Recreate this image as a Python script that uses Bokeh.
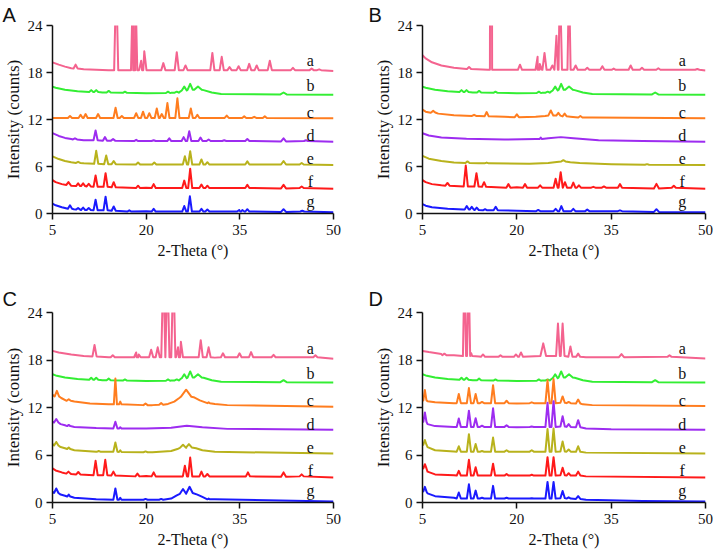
from bokeh.plotting import figure
from bokeh.models import Range1d, FixedTicker, Title
from bokeh.layouts import column, row
from bokeh.core.properties import value
from bokeh.embed import file_html
from bokeh.resources import INLINE

# ---------------- data ----------------
THETA_TICKS = [5, 20, 35, 50]
INTENSITY_TICKS = [0, 6, 12, 18, 24]
SERIES = ["a", "b", "c", "d", "e", "f", "g"]
COLORS = ["#F4638F", "#33EE33", "#FF7D1F", "#9D2CF0", "#B8B21C", "#FF1A1A", "#1A1AFF"]
LABEL_X = 46.3
LABEL_Y = [19.5, 16.3, 12.9, 9.9, 7.0, 4.05, 1.5]
PANELS = ["A", "B", "C", "D"]

# each trace: baseline knots (2theta, counts) and peaks (2theta, top[, foot[, half-width]])
# sample b (same amorphous reference in every panel)
b_knots = [(5, 16.2), (5.5, 16.05), (7, 15.8), (9, 15.6), (13, 15.45), (20, 15.35), (24, 15.4),
           (25.5, 15.6), (29.2, 15.75), (30.5, 15.45), (32, 15.25), (50, 15.15)]
b_peaks = [(11.2, 15.75, 15.5), (12.0, 15.75, 15.5), (14.0, 15.65, 15.45), (16.6, 15.55, 15.4),
           (23.5, 15.55, 15.38), (24.9, 15.55, 15.42), (26.1, 16.2, 15.7, 0.4),
           (27.05, 16.55, 15.8, 0.4), (28.3, 16.2, 15.8, 0.6), (42.0, 15.45, 15.2, 0.5)]

# ----- panel A -----
A_feet = [18.3, 15.4, 12.2, 9.25, 6.25, 3.25, 0.25]
A_a_knots = [(5, 19.3), (6, 19.0), (7, 18.75), (8, 18.55), (10, 18.4), (14, 18.3), (50, 18.2)]
A_a_peaks = [(8.7, 19.0, 18.5), (15.2, 30), (17.9, 30), (18.25, 30), (19.2, 19.5), (19.7, 20.7, 18.3, 0.35),
             (22.75, 19.2), (24.9, 20.6), (26.3, 18.9), (30.6, 20.5), (32.1, 20.0), (33.35, 18.7),
             (34.8, 18.8), (36.5, 19.1), (37.7, 18.9), (39.8, 19.5), (43.5, 18.6), (46.5, 18.5), (47.7, 18.4)]
A_c_knots = [(5, 12.2), (50, 12.15)]
A_c_peaks = [(7.8, 12.45), (9.5, 12.6), (10.3, 12.7), (12.3, 12.7), (15.1, 13.5), (16.1, 12.45), (18.4, 12.8),
             (19.5, 13.0), (20.5, 12.8), (21.7, 13.4), (22.5, 12.7), (23.4, 14.1), (25.0, 14.7),
             (27.15, 13.4), (28.2, 12.6), (32.9, 12.5), (35.7, 12.4), (37.3, 12.35), (39.0, 12.4)]
A_d_knots = [(5, 10.25), (6, 9.9), (7, 9.65), (8, 9.5), (10, 9.35), (14, 9.3), (50, 9.15)]
A_d_peaks = [(8.6, 9.6, 9.45), (11.9, 10.6, 9.35), (13.4, 9.75, 9.3), (14.7, 9.5, 9.3), (18.4, 9.4),
             (21.2, 9.35), (23.7, 9.6), (26.0, 9.75), (26.9, 10.5), (28.7, 9.7), (30.0, 9.45),
             (32.5, 9.35), (36.2, 9.5), (42.0, 9.6, 9.2, 0.4), (45.6, 9.35)]
A_e_knots = [(5, 7.3), (6, 6.95), (7, 6.7), (8, 6.55), (10, 6.4), (14, 6.3), (50, 6.2)]
A_e_peaks = [(9.1, 6.6, 6.45), (12.0, 8.0, 6.35), (13.6, 7.4, 6.3), (14.8, 6.7, 6.3), (18.7, 6.5),
             (21.3, 6.5), (26.2, 7.3), (27.05, 7.95), (28.85, 6.9), (29.8, 6.55), (36.2, 6.65),
             (42.0, 6.7, 6.25, 0.4), (44.9, 6.45)]
A_f_knots = [(5, 4.25), (5.5, 4.0), (6.5, 3.75), (8, 3.55), (12.5, 3.4), (20, 3.3), (50, 3.15)]
A_f_peaks = [(7.55, 4.0, 3.65), (9.1, 3.85, 3.5), (9.9, 3.85, 3.5), (10.8, 3.8, 3.45), (11.9, 4.85, 3.4),
             (13.5, 5.15, 3.4), (14.8, 4.0, 3.35), (18.7, 3.55), (21.2, 3.75), (26.1, 4.2), (27.05, 5.7),
             (28.85, 3.7), (29.8, 3.55), (36.2, 3.65), (42.0, 3.65, 3.2, 0.4), (44.9, 3.45)]
A_g_knots = [(5, 1.25), (5.5, 1.05), (6.5, 0.8), (8.4, 0.55), (12.5, 0.4), (20, 0.3), (50, 0.15)]
A_g_peaks = [(7.8, 1.05, 0.6), (9.1, 0.7, 0.5), (9.9, 0.75, 0.45), (10.8, 0.7, 0.45), (11.9, 1.75, 0.4),
             (13.5, 2.15, 0.4), (14.8, 0.9, 0.35), (17.3, 0.4), (21.2, 0.6), (26.1, 0.95), (27.0, 2.2),
             (28.85, 0.6), (29.8, 0.5), (34.9, 0.45), (35.4, 0.45), (36.2, 0.55), (42.0, 0.55, 0.2, 0.4),
             (45.0, 0.35)]

# ----- panel B -----
B_feet = [18.35, 15.4, 12.35, 9.5, 6.4, 3.3, 0.3]
B_a_knots = [(5, 20.2), (5.5, 19.8), (6.5, 19.3), (8, 18.9), (10, 18.6), (12, 18.45), (50, 18.25)]
B_a_peaks = [(12.4, 18.7, 18.45), (15.74, 30), (16.05, 30), (20.5, 19.0), (23.3, 20.0), (23.65, 19.1),
             (24.4, 20.5), (25.65, 18.9), (26.3, 22.7), (26.85, 30), (28.3, 30, 18.35, 0.25), (29.35, 18.9),
             (31.2, 18.6), (33.6, 18.8), (35.4, 18.5), (38.1, 18.9), (39.9, 18.6), (42.5, 18.55), (48.7, 18.45)]
B_c_knots = [(5, 13.25), (5.5, 13.0), (6.3, 12.85), (7.5, 12.75), (10, 12.55), (14, 12.45), (18, 12.35),
             (23, 12.35), (24.5, 12.45), (28.5, 12.35), (32, 12.25), (50, 12.15)]
B_c_peaks = [(6.7, 13.1, 12.9), (13.2, 12.6, 12.45), (15.2, 12.95, 12.4), (20.0, 12.65, 12.3),
             (25.4, 13.15, 12.5, 0.4), (26.6, 12.85, 12.5), (27.6, 12.75, 12.4), (30.1, 12.45, 12.25)]
B_d_knots = [(5, 10.25), (6, 9.95), (8, 9.7), (12, 9.55), (18, 9.45), (23, 9.5), (25, 9.6), (27, 9.75),
             (29, 9.6), (33, 9.35), (40, 9.25), (50, 9.15)]
B_d_peaks = [(23.8, 9.7, 9.5, 0.2)]
B_e_knots = [(5, 7.35), (6, 7.0), (8, 6.7), (10, 6.5), (14, 6.4), (22, 6.35), (25, 6.45), (26, 6.55),
             (28.5, 6.55), (30, 6.45), (35, 6.3), (50, 6.2)]
B_e_peaks = [(12.15, 6.65, 6.45), (15.2, 6.5, 6.4), (27.4, 6.8, 6.65), (40.7, 6.3, 6.22)]
B_f_knots = [(5, 4.25), (5.5, 4.0), (6.5, 3.75), (8, 3.6), (12.5, 3.45), (20, 3.35), (31, 3.3), (50, 3.15)]
B_f_peaks = [(8.97, 3.9, 3.55), (11.88, 6.13, 3.45), (13.58, 5.15, 3.45), (14.79, 4.0, 3.4), (18.66, 3.75),
             (21.3, 3.75), (23.7, 3.6), (26.17, 4.43), (26.97, 5.27), (27.65, 4.0), (28.98, 3.95),
             (29.87, 3.6), (32.16, 3.4), (33.85, 3.45), (36.4, 3.75), (42.2, 3.78, 3.2, 0.4), (44.96, 3.55)]
B_g_knots = [(5, 1.2), (5.5, 1.0), (6.5, 0.8), (9, 0.6), (11.5, 0.5), (20, 0.35), (30, 0.3), (50, 0.15)]
B_g_peaks = [(12.04, 0.95, 0.5), (12.83, 0.85, 0.5), (13.62, 0.75, 0.45), (14.95, 0.55, 0.4),
             (16.64, 0.85, 0.4), (23.4, 0.45), (26.17, 0.6), (27.08, 0.95), (28.98, 0.6), (31.2, 0.5),
             (36.4, 0.4), (42.2, 0.55, 0.2, 0.4)]

# ----- panel C -----
C_feet = [18.35, 15.4, 12.4, 9.35, 6.4, 3.3, 0.35]
C_a_knots = [(5, 19.15), (6, 18.95), (8, 18.7), (10, 18.5), (14, 18.35), (31, 18.3), (50, 18.15)]
C_a_peaks = [(11.73, 19.9, 18.45), (14.65, 18.6), (18.4, 18.95), (18.8, 18.7), (20.8, 19.3), (21.85, 19.6),
             (22.75, 30), (23.4, 30), (24.35, 30), (25.1, 19.6), (25.56, 20.3), (28.74, 20.5), (30.0, 19.6),
             (32.3, 18.85), (34.95, 18.85), (36.8, 19.0), (40.4, 18.65), (47.1, 18.6)]
C_c_knots = [(5, 13.6), (6.4, 13.2), (8.5, 12.75), (11, 12.5), (14, 12.4), (21, 12.3), (23.5, 12.45),
             (24.5, 12.75), (25.3, 13.2), (27.6, 13.3), (28.6, 12.9), (31, 12.45), (33, 12.3), (50, 12.1)]
C_c_peaks = [(5.7, 14.1, 13.4, 0.35), (7.6, 13.05, 12.85), (15.07, 15.66, 12.4, 0.25), (15.85, 12.75, 12.4, 0.2),
             (19.9, 12.5, 12.3), (22.4, 12.55, 12.35), (26.4, 14.25, 13.35, 0.85), (30.0, 12.65, 12.55, 0.2)]
C_d_knots = [(5, 10.2), (6.3, 9.9), (7, 9.75), (8.5, 9.55), (12, 9.4), (20, 9.35), (24, 9.45), (26.5, 9.7),
             (29, 9.5), (33, 9.3), (50, 9.2)]
C_d_peaks = [(5.6, 10.55, 10.1, 0.35), (7.6, 9.8, 9.65, 0.25), (15.07, 10.2, 9.35), (15.85, 9.5, 9.35, 0.2)]
C_e_knots = [(5, 7.4), (6.3, 7.0), (7, 6.85), (8.5, 6.6), (12, 6.4), (21, 6.35), (24, 6.5), (25, 6.75),
             (28, 6.85), (29, 6.6), (31, 6.4), (50, 6.2)]
C_e_peaks = [(5.6, 7.65, 7.2, 0.35), (7.6, 6.95, 6.75, 0.25), (12.4, 6.5, 6.4), (15.07, 7.58, 6.4),
             (15.85, 6.6, 6.38, 0.2), (19.9, 6.45, 6.35), (25.9, 7.3, 6.9, 0.5), (26.85, 7.37, 6.95, 0.45)]
C_f_knots = [(5, 4.3), (5.5, 4.05), (6.5, 3.8), (8, 3.6), (12.6, 3.45), (20, 3.35), (31, 3.3), (50, 3.15)]
C_f_peaks = [(7.55, 3.9, 3.65), (9.13, 3.85, 3.55), (11.9, 5.26, 3.45), (13.45, 5.39, 3.45), (14.75, 3.9, 3.4),
             (18.6, 3.65), (21.2, 3.8), (26.2, 4.64), (27.05, 5.68), (28.85, 3.9), (29.8, 3.6), (36.3, 3.8),
             (42.0, 3.8, 3.25, 0.4), (44.9, 3.55)]
C_g_knots = [(5, 1.35), (6.3, 1.0), (7.0, 0.85), (8.5, 0.6), (12, 0.4), (21, 0.35), (24, 0.5), (24.9, 0.9),
             (28.2, 1.0), (29, 0.7), (31, 0.4), (50, 0.12)]
C_g_peaks = [(5.6, 1.77, 1.2, 0.35), (7.6, 1.0, 0.75, 0.25), (15.07, 1.77, 0.35), (15.85, 0.6, 0.35, 0.2),
             (19.9, 0.45), (22.4, 0.45), (25.9, 1.7, 1.1, 0.5), (26.95, 1.98, 1.2, 0.5), (30.0, 0.5, 0.4, 0.2)]

# ----- panel D -----
D_feet = [18.4, 15.4, 12.55, 9.55, 6.42, 3.4, 0.5]
D_a_knots = [(5, 19.15), (6, 19.0), (8, 18.75), (10, 18.6), (14, 18.45), (31, 18.35), (50, 18.2)]
D_a_peaks = [(8.48, 18.8, 18.6), (11.68, 30, 18.5, 0.25), (12.33, 30, 18.5, 0.25), (12.75, 18.85, 18.5, 0.15),
             (14.62, 18.7), (17.4, 18.6), (19.86, 18.7), (20.66, 18.95), (24.2, 20.1, 18.5, 0.45),
             (26.54, 22.6, 18.5, 0.3), (27.28, 22.6, 18.5, 0.3), (28.52, 19.7), (29.75, 18.8),
             (36.64, 18.75, 18.35, 0.4), (44.28, 18.6)]
D_c_knots = [(5, 12.95), (5.8, 12.8), (7, 12.65), (10, 12.55), (20, 12.5), (30.5, 12.4), (32, 12.3), (50, 12.2)]
D_c_peaks = [(5.38, 14.2, 12.9, 0.25), (10.77, 13.7), (12.38, 14.45), (13.45, 13.7), (14.46, 12.7),
             (16.22, 14.82), (18.37, 12.85), (22.37, 12.65), (24.88, 15.46), (25.84, 15.6),
             (27.28, 13.4, 12.6, 0.35), (28.24, 12.7), (29.75, 13.0, 12.5, 0.35)]
D_d_knots = [(5, 10.6), (5.8, 9.9), (7, 9.65), (10, 9.55), (20, 9.5), (31, 9.35), (35, 9.25), (50, 9.2)]
D_d_peaks = [(5.38, 11.37, 10.2, 0.25), (10.77, 10.6), (12.38, 11.6), (13.45, 10.65), (14.46, 9.7),
             (16.22, 11.9), (18.37, 9.75), (22.37, 9.6), (24.88, 12.6), (25.84, 12.8),
             (27.28, 10.9, 9.6, 0.35), (28.24, 9.9), (29.75, 10.4, 9.5, 0.35)]
D_e_knots = [(5, 7.6), (5.8, 7.0), (7, 6.6), (10, 6.45), (20, 6.4), (31, 6.3), (50, 6.2)]
D_e_peaks = [(5.38, 7.9, 7.3, 0.25), (10.77, 7.1), (12.38, 8.63), (13.45, 7.4), (14.46, 6.5), (16.22, 8.2),
             (18.37, 6.6), (22.37, 6.6), (24.88, 9.27), (25.84, 9.35), (27.28, 7.7, 6.45, 0.35),
             (28.24, 6.7), (29.75, 7.1, 6.4, 0.35)]
D_f_knots = [(5, 4.5), (5.8, 3.9), (7, 3.55), (10, 3.45), (20, 3.4), (31, 3.3), (50, 3.15)]
D_f_peaks = [(5.38, 4.84, 4.3, 0.25), (10.77, 4.0), (12.38, 5.39), (13.45, 4.45), (16.22, 4.9),
             (18.37, 3.6), (22.37, 3.5), (24.88, 5.73), (25.84, 5.73), (27.28, 4.4, 3.45, 0.35),
             (28.24, 3.7), (29.75, 3.9, 3.4, 0.35)]
D_g_knots = [(5, 1.6), (5.8, 1.15), (7, 0.8), (10, 0.6), (20, 0.5), (31, 0.35), (40, 0.2), (50, 0.12)]
D_g_peaks = [(5.38, 1.98, 1.4, 0.25), (10.77, 1.26), (12.38, 2.3), (13.45, 1.5), (14.46, 0.6), (16.22, 2.1),
             (18.37, 0.6), (22.37, 0.55), (24.88, 2.6), (25.84, 2.6), (27.28, 1.45, 0.55, 0.35),
             (28.24, 0.65), (29.75, 0.8, 0.45, 0.35)]

A_traces = [(A_a_knots, A_a_peaks), (b_knots, b_peaks), (A_c_knots, A_c_peaks), (A_d_knots, A_d_peaks),
            (A_e_knots, A_e_peaks), (A_f_knots, A_f_peaks), (A_g_knots, A_g_peaks)]
B_traces = [(B_a_knots, B_a_peaks), (b_knots, b_peaks), (B_c_knots, B_c_peaks), (B_d_knots, B_d_peaks),
            (B_e_knots, B_e_peaks), (B_f_knots, B_f_peaks), (B_g_knots, B_g_peaks)]
C_traces = [(C_a_knots, C_a_peaks), (b_knots, b_peaks), (C_c_knots, C_c_peaks), (C_d_knots, C_d_peaks),
            (C_e_knots, C_e_peaks), (C_f_knots, C_f_peaks), (C_g_knots, C_g_peaks)]
D_traces = [(D_a_knots, D_a_peaks), (b_knots, b_peaks), (D_c_knots, D_c_peaks), (D_d_knots, D_d_peaks),
            (D_e_knots, D_e_peaks), (D_f_knots, D_f_peaks), (D_g_knots, D_g_peaks)]


def vertices(knots, peaks, foot, hw=0.33):
    pts = list(knots)
    for pk in peaks:
        pos, top = pk[0], pk[1]
        f = pk[2] if len(pk) > 2 else foot
        w = pk[3] if len(pk) > 3 else hw
        pts += [(pos - w, f), (pos, top), (pos + w, f)]
    pts.sort(key=lambda t: t[0])
    return [t[0] for t in pts], [t[1] for t in pts]


SERIF = "'Liberation Serif', 'Times New Roman', Tinos, 'DejaVu Serif', serif"
SANS = "'Liberation Sans', Arial, sans-serif"


def make_panel(letter, traces, feet, width, height, bl, br, bt, bb, letter_offset, letter_standoff):
    p = figure(width=width, height=height, x_range=Range1d(5, 50), y_range=Range1d(0, 24),
               output_backend="svg", toolbar_location=None,
               min_border_left=bl, min_border_right=br, min_border_top=bt, min_border_bottom=bb)
    p.outline_line_color = None
    p.grid.visible = False
    p.background_fill_color = "white"
    p.border_fill_color = "white"
    for (knots, peaks), foot, color in zip(traces, feet, COLORS):
        xs, ys = vertices(knots, peaks, foot)
        p.line(xs, ys, line_color=color, line_width=2.0, line_join="round")
    p.text(x=[LABEL_X] * len(SERIES), y=LABEL_Y, text=SERIES, text_font=value(SERIF),
           text_font_size="16px", text_align="center", text_baseline="alphabetic", text_color="#111111")
    p.xaxis.ticker = FixedTicker(ticks=THETA_TICKS)
    p.yaxis.ticker = FixedTicker(ticks=INTENSITY_TICKS)
    p.xaxis.axis_label = "2-Theta (°)"
    p.yaxis.axis_label = "Intensity (counts)"
    for ax in (p.xaxis[0], p.yaxis[0]):
        ax.axis_line_width = 1.5
        ax.axis_line_color = "#111111"
        ax.major_tick_line_width = 1.5
        ax.major_tick_line_color = "#111111"
        ax.major_tick_in = 0
        ax.major_tick_out = 6
        ax.minor_tick_line_color = None
        ax.major_label_text_font = SERIF
        ax.major_label_text_font_size = "15px"
        ax.major_label_text_color = "#111111"
        ax.axis_label_text_font = SERIF
        ax.axis_label_text_font_style = "normal"
        ax.axis_label_text_color = "#111111"
    p.xaxis.axis_label_text_font_size = "16px"
    p.yaxis.axis_label_text_font_size = "17px"
    p.xaxis.major_label_standoff = 5
    p.xaxis.axis_label_standoff = 4
    p.yaxis.major_label_standoff = 4
    p.yaxis.axis_label_standoff = 2
    p.add_layout(Title(text=letter, align="left", offset=letter_offset, standoff=letter_standoff,
                       text_font=SANS, text_font_size="20px", text_font_style="normal",
                       text_color="#111111"), "above")
    return p


pA = make_panel(PANELS[0], A_traces, A_feet, 356, 264, 50, 23, 25, 51, -50, 0)
pB = make_panel(PANELS[1], B_traces, B_feet, 357, 264, 66, 8, 25, 51, -54, 0)
pC = make_panel(PANELS[2], C_traces, C_feet, 356, 286, 50, 23, 48, 48, -50, 5)
pD = make_panel(PANELS[3], D_traces, D_feet, 357, 286, 66, 8, 48, 48, -54, 5)

layout = column(row(pA, pB), row(pC, pD))
open("out.html", "w").write(file_html(layout, INLINE))
